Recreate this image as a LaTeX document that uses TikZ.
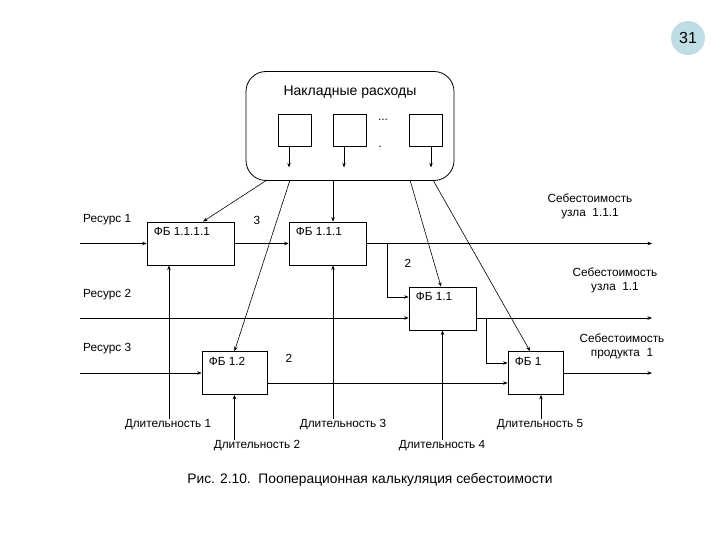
\documentclass[tikz,border=0pt]{standalone}
\usepackage{fontspec}
\setmainfont{Liberation Sans}
\usetikzlibrary{arrows.meta}

\tikzset{
  arr/.style={-{Stealth[length=4.5pt,width=3.5pt]}, line width=0.6pt},
  ln/.style={line width=0.6pt},
  fb/.style={draw, line width=0.8pt, minimum width=#1, minimum height=43pt, inner sep=0pt},
  fbtext/.style={anchor=north west, inner sep=0pt, xshift=7pt, yshift=-6pt},
  txt/.style={font=\fontsize{11.8}{14}\selectfont, inner sep=1pt},
}

\begin{document}
\begin{tikzpicture}[x=1pt,y=-1pt]
				\useasboundingbox (0,0) rectangle (720,540);
				% Badge
				\node[circle, fill={rgb,255:red,190;green,222;blue,228}, minimum size=34pt, inner sep=0pt,
				      font=\fontsize{16}{18}\selectfont] (page) at (688,38) {31};
				% Overheads
				\node[draw, line width=0.8pt, rounded corners=20pt, minimum width=208pt, minimum height=109pt]
				      (oh) at (350,126) {};
				\node[font=\fontsize{14}{16}\selectfont] (ohtitle) at (350,92) {Накладные расходы};
				\foreach \n/\x in {s1/294.5, s2/349.5, s3/426}
					\node[draw, line width=0.8pt, minimum width=33pt, minimum height=32pt, inner sep=0pt] (\n) at (\x,130) {};
				\foreach \n/\d in {s1/-5.5, s2/-5.5, s3/5}
					\draw[arr] ([xshift=\d pt]\n.south) -- ++(0,21);
				\node[txt] (dots) at (383,120) {...};
				\node[txt] (dot) at (380,147) {.};
				% Blocks
				\node[fb=87pt] (fb1111) at (190.5,243.5) {};
				\node[fb=77pt] (fb111) at (327.5,243.5) {};
				\node[fb=67pt] (fb11) at (442.5,308.5) {};
				\node[fb=65pt] (fb12) at (234.5,373) {};
				\node[fb=55pt] (fb1) at (535.5,373) {};
				\node[txt, fbtext] (t1111) at (fb1111.north west) {ФБ 1.1.1.1};
				\node[txt, fbtext] (t111) at (fb111.north west) {ФБ 1.1.1};
				\node[txt, fbtext] (t11) at (fb11.north west) {ФБ 1.1};
				\node[txt, fbtext] (t12) at (fb12.north west) {ФБ 1.2};
				\node[txt, fbtext] (t1) at (fb1.north west) {ФБ 1};
				% Overhead lines
				\coordinate (o1) at (267,180);
				\coordinate (o2) at (290,180);
				\coordinate (o3) at (333,180);
				\coordinate (o4) at (410,180);
				\coordinate (o5) at (433,180);
				\draw[arr] (o1) -- ([xshift=12.5pt]fb1111.north);
				\draw[arr] (o2) -- (fb12.north);
				\draw[arr] (o3) -- (o3 |- fb111.north);
				\draw[arr] (o4) -- ([xshift=-1.5pt]fb11.north);
				\draw[arr] (o5) -- ([xshift=-5.5pt]fb1.north);
				% Resources
				\node[txt, anchor=west] (r1) at (82,220) {Ресурс 1};
				\node[txt, anchor=west] (r2) at (82,295) {Ресурс 2};
				\node[txt, anchor=west] (r3) at (82,349) {Ресурс 3};
				\coordinate (in1) at (80,243.5);
				\coordinate (in2) at (80,318);
				\coordinate (in3) at (80,373);
				\draw[arr] (in1) -- (fb1111.west);
				\draw[arr] (in2) -- ([yshift=-9.5pt]fb11.west);
				\draw[arr] (in3) -- (fb12.west);
				% Flows
				\coordinate (out1) at (652,243.5);
				\coordinate (out2) at (652,318);
				\coordinate (out3) at (652,373);
				\draw[arr] (fb1111.east) -- (fb111.west);
				\draw[arr] (fb111.east) -- (out1);
				\draw[arr] ([xshift=21pt]fb111.east) |- ([yshift=11.5pt]fb11.west);
				\draw[arr] ([yshift=-9.5pt]fb11.east) -- (out2);
				\draw[arr] ([yshift=-9.5pt,xshift=10pt]fb11.east) |- ([yshift=10pt]fb1.west);
				\draw[arr] ([yshift=-10pt]fb12.east) -- ([yshift=-10pt]fb1.west);
				\draw[arr] (fb1.east) -- (out3);
				\node[txt] (n3) at (257,220) {3};
				\node[txt] (n2a) at (408,263) {2};
				\node[txt] (n2b) at (289,358) {2};
				% Costs
				\node[txt, align=center] (c1) at (590,206) {Себестоимость\\узла\ \ 1.1.1};
				\node[txt, align=center] (c2) at (615,280) {Себестоимость\\узла\ \ 1.1};
				\node[txt, align=center] (c3) at (622,346) {Себестоимость\\продукта\ \ 1};
				% Durations
				\node[txt] (d1) at (168,425) {Длительность 1};
				\node[txt] (d2) at (257,446) {Длительность 2};
				\node[txt] (d3) at (343,425) {Длительность 3};
				\node[txt] (d4) at (442,446) {Длительность 4};
				\node[txt] (d5) at (540,425) {Длительность 5};
				\draw[arr] ([xshift=1pt]d1.north) -- ([xshift=1pt]d1.north |- fb1111.south);
				\draw[arr] (fb12.south |- d2.north) -- (fb12.south);
				\draw[arr] (o3 |- d3.north) -- (o3 |- fb111.south);
				\draw[arr] (fb11.south |- d4.north) -- (fb11.south);
				\draw[arr] ([xshift=1pt]d5.north) -- ([xshift=1pt]d5.north |- fb1.south);
				% Caption
				\node[font=\fontsize{13.8}{16}\selectfont] (cap) at (370,480) {Рис. 2.10.\ \ Пооперационная калькуляция себестоимости};
			\end{tikzpicture}
\end{document}
